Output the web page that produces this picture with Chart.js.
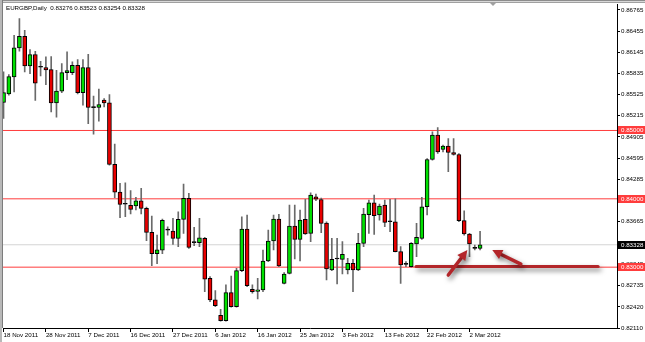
<!DOCTYPE html>
<html>
<head>
<meta charset="utf-8">
<script src="https://cdn.jsdelivr.net/npm/chart.js@4"></script>
<style>
  html, body { margin: 0; padding: 0; background: #fff; }
  #wrap { width: 645px; height: 342px; position: relative; }
</style>
</head>
<body>
<div id="wrap"><canvas id="chart"></canvas></div>
<script>
const symbol = 'EURGBP,Daily';
const dateLabels = ['18 Nov 2011', '28 Nov 2011', '7 Dec 2011', '16 Dec 2011', '27 Dec 2011', '6 Jan 2012',
    '16 Jan 2012', '25 Jan 2012', '3 Feb 2012', '13 Feb 2012', '22 Feb 2012', '2 Mar 2012'];
const labelEvery = 8;

// daily bars, oldest first
const opens = [0.85409, 0.85536, 0.85784, 0.86208, 0.86378, 0.85945, 0.86110, 0.85925, 0.85920, 0.85890,
    0.85404, 0.85575, 0.85847, 0.85847, 0.85955, 0.85555, 0.85920, 0.85334, 0.85336, 0.85443,
    0.85404, 0.84503, 0.84099, 0.83921, 0.83904, 0.83895, 0.83972, 0.83860, 0.83510, 0.83198,
    0.83247, 0.83543, 0.83529, 0.83422, 0.83699, 0.84006, 0.83358, 0.83358, 0.83422, 0.82837,
    0.82521, 0.82297, 0.82219, 0.82628, 0.82423, 0.82949, 0.83558, 0.82676, 0.82647, 0.82667,
    0.83090, 0.83383, 0.83704, 0.82764, 0.82910, 0.83602, 0.83407, 0.83699, 0.83495, 0.84030,
    0.83990, 0.83646, 0.82959, 0.83120, 0.83115, 0.82959, 0.83056, 0.82959, 0.83349, 0.83767,
    0.83943, 0.83763, 0.83909, 0.83665, 0.83665, 0.83227, 0.83042, 0.83008, 0.83339, 0.83422,
    0.83884, 0.84576, 0.84931, 0.84722, 0.84771, 0.84678, 0.84649, 0.83680, 0.83485, 0.83276,
    0.83276];
const highs = [0.85857, 0.85818, 0.86393, 0.86636, 0.86466, 0.86183, 0.86159, 0.86013, 0.86076, 0.86081,
    0.85881, 0.85979, 0.86149, 0.86003, 0.86037, 0.86037, 0.86115, 0.85502, 0.85604, 0.85468,
    0.85526, 0.84800, 0.84226, 0.84235, 0.84119, 0.84021, 0.84153, 0.83880, 0.83748, 0.83471,
    0.83705, 0.83592, 0.83714, 0.83811, 0.84215, 0.84079, 0.83582, 0.83714, 0.83435, 0.82862,
    0.82657, 0.82384, 0.82740, 0.82871, 0.82983, 0.83738, 0.83763, 0.82740, 0.82837, 0.83251,
    0.83543, 0.83763, 0.83772, 0.82920, 0.83909, 0.83909, 0.83836, 0.83991, 0.84089, 0.84070,
    0.84010, 0.83665, 0.83422, 0.83422, 0.83373, 0.83129, 0.83115, 0.83495, 0.83860, 0.83982,
    0.84055, 0.83923, 0.83982, 0.83991, 0.84000, 0.83300, 0.83080, 0.83358, 0.83641, 0.84021,
    0.84590, 0.84980, 0.85043, 0.84785, 0.84883, 0.84883, 0.84663, 0.83826, 0.83495, 0.83325,
    0.83523];
const lows = [0.85175, 0.85516, 0.85565, 0.86159, 0.85857, 0.85833, 0.85438, 0.85799, 0.85672, 0.85273,
    0.85195, 0.85555, 0.85745, 0.85818, 0.85536, 0.85370, 0.85100, 0.84946, 0.85136, 0.85346,
    0.84494, 0.84016, 0.83724, 0.83739, 0.83778, 0.83836, 0.83778, 0.83388, 0.83023, 0.83052,
    0.83198, 0.83470, 0.83334, 0.83300, 0.83495, 0.83276, 0.83314, 0.83300, 0.82642, 0.82497,
    0.82423, 0.82209, 0.82209, 0.82413, 0.82413, 0.82935, 0.82715, 0.82618, 0.82535, 0.82642,
    0.83080, 0.83251, 0.83007, 0.82754, 0.82900, 0.83120, 0.83090, 0.83480, 0.83373, 0.83972,
    0.83504, 0.82813, 0.82949, 0.82754, 0.82900, 0.82900, 0.82642, 0.82949, 0.83300, 0.83495,
    0.83480, 0.83689, 0.83592, 0.83519, 0.83222, 0.82764, 0.83008, 0.83000, 0.83154, 0.83407,
    0.83763, 0.84566, 0.84663, 0.84688, 0.84396, 0.84639, 0.83665, 0.83470, 0.83154, 0.83251,
    0.83254];
const closes = [0.85555, 0.85789, 0.86208, 0.86378, 0.85945, 0.86110, 0.85692, 0.85925, 0.85886, 0.85404,
    0.85575, 0.85847, 0.85877, 0.85955, 0.85555, 0.85920, 0.85336, 0.85334, 0.85380, 0.85404,
    0.84503, 0.84099, 0.83919, 0.83921, 0.83846, 0.83972, 0.83860, 0.83510, 0.83198, 0.83252,
    0.83685, 0.83543, 0.83422, 0.83699, 0.84006, 0.83290, 0.83358, 0.83431, 0.82823, 0.82521,
    0.82438, 0.82219, 0.82628, 0.82423, 0.82949, 0.83558, 0.82730, 0.82642, 0.82667, 0.83090,
    0.83383, 0.83704, 0.83017, 0.82900, 0.83602, 0.83407, 0.83690, 0.83485, 0.84055, 0.83996,
    0.83641, 0.82974, 0.83115, 0.83120, 0.83188, 0.83056, 0.82959, 0.83349, 0.83777, 0.83943,
    0.83753, 0.83894, 0.83655, 0.83665, 0.83227, 0.83032, 0.83042, 0.83349, 0.83436, 0.83884,
    0.84576, 0.84931, 0.84688, 0.84771, 0.84678, 0.84649, 0.83680, 0.83485, 0.83339, 0.83276,
    0.83328];

const priceTicks = [0.86765, 0.86455, 0.86145, 0.85835, 0.85525, 0.85215, 0.84905, 0.84595, 0.84285,
    0.83975, 0.83665, 0.83355, 0.83045, 0.82735, 0.82420, 0.82110];
const levels = [0.85, 0.84, 0.83];
const lastPrice = closes[closes.length - 1];

// hand drawn marks on the chart, in bar index / price units
const supportMark = { from: 77.9, to: 112.3, price: 0.8301 };
const arrows = [
    { from: [84.0, 0.82885], to: [87.6, 0.83250] },
    { from: [97.7, 0.83045], to: [92.3, 0.83250] }
];

const xMin = -0.1;
const xMax = 115.86;
const bullColor = '#00e000';
const bearColor = '#e80000';
const levelColor = '#ff3c3c';
const markColor = '#b3262a';
const font = { family: '"Liberation Sans", Arial, sans-serif', size: 6.2 };

function bodyColor(o, c) {
    if (c > o) return bullColor;
    if (c < o) return bearColor;
    return '#000';
}

const wicks = opens.map((o, i) => ({ x: i, y: [lows[i], highs[i]] }));
const bodies = opens.map((o, i) => ({ x: i, y: [o, closes[i]] }));

const levelSets = levels.map(lvl => ({
    type: 'line',
    data: [{ x: xMin, y: lvl }, { x: xMax, y: lvl }],
    borderColor: levelColor,
    borderWidth: 1,
    pointRadius: 0,
    order: 5
}));

const lastSet = {
    type: 'line',
    data: [{ x: xMin, y: lastPrice }, { x: xMax, y: lastPrice }],
    borderColor: '#d4d4d4',
    borderWidth: 1,
    pointRadius: 0,
    order: 6
};

function drawArrow(ctx, x1, y1, x2, y2) {
    const a = Math.atan2(y2 - y1, x2 - x1);
    const headLen = 10;
    const headW = 10;
    const bx = x2 - Math.cos(a) * headLen;
    const by = y2 - Math.sin(a) * headLen;
    ctx.beginPath();
    ctx.moveTo(x1, y1);
    ctx.lineTo(bx, by);
    ctx.lineWidth = 3.5;
    ctx.stroke();
    ctx.beginPath();
    ctx.moveTo(x2, y2);
    ctx.lineTo(bx + Math.sin(a) * headW / 2, by - Math.cos(a) * headW / 2);
    ctx.lineTo(bx - Math.sin(a) * headW / 2, by + Math.cos(a) * headW / 2);
    ctx.closePath();
    ctx.fill();
}

const overlay = {
    id: 'overlay',
    afterDraw(chart) {
        const ctx = chart.ctx;
        const xs = chart.scales.x;
        const ys = chart.scales.y;
        const area = chart.chartArea;

        // support line and arrows
        ctx.save();
        ctx.shadowColor = 'rgba(0,0,0,0.5)';
        ctx.shadowBlur = 5;
        ctx.shadowOffsetX = 2;
        ctx.shadowOffsetY = 3;
        ctx.strokeStyle = markColor;
        ctx.fillStyle = markColor;
        ctx.lineCap = 'round';
        const sy = ys.getPixelForValue(supportMark.price);
        ctx.beginPath();
        ctx.moveTo(xs.getPixelForValue(supportMark.from), sy);
        ctx.lineTo(xs.getPixelForValue(supportMark.to), sy);
        ctx.lineWidth = 3;
        ctx.stroke();
        arrows.forEach(ar => {
            drawArrow(ctx,
                xs.getPixelForValue(ar.from[0]), ys.getPixelForValue(ar.from[1]),
                xs.getPixelForValue(ar.to[0]), ys.getPixelForValue(ar.to[1]));
        });
        ctx.restore();

        // price boxes on the right axis
        ctx.save();
        ctx.font = font.size + 'px ' + font.family;
        ctx.textBaseline = 'middle';
        const boxes = levels.map(v => ({ v: v, bg: levelColor }));
        boxes.push({ v: lastPrice, bg: '#000' });
        boxes.forEach(b => {
            const y = Math.round(ys.getPixelForValue(b.v));
            ctx.fillStyle = b.bg;
            ctx.fillRect(area.right + 1, y - 4, 27, 8);
            ctx.fillStyle = '#fff';
            ctx.fillText(b.v.toFixed(5), area.right + 4, y + 0.5);
        });

        // title
        ctx.fillStyle = '#000';
        const i = closes.length - 1;
        const ohlc = [opens[i], highs[i], lows[i], closes[i]].map(v => v.toFixed(5)).join(' ');
        ctx.fillText(symbol + '  ' + ohlc, 6, 8);

        // window frame
        ctx.fillStyle = '#8c8c8c';
        ctx.fillRect(0, 0, chart.width, 1);
        ctx.fillStyle = '#d8d8d8';
        ctx.fillRect(0, 1, chart.width, 1);
        ctx.fillStyle = '#a0a0a0';
        ctx.fillRect(0, 2, chart.width, 1);
        ctx.fillStyle = '#b8b8b8';
        ctx.fillRect(0, 0, 2, chart.height);
        ctx.fillStyle = '#7c7c7c';
        ctx.fillRect(2, 0, 1, area.bottom);
        // chart shift marker
        ctx.fillStyle = '#a0a0a0';
        ctx.beginPath();
        ctx.moveTo(490, 3);
        ctx.lineTo(496, 3);
        ctx.lineTo(493, 6);
        ctx.closePath();
        ctx.fill();
        ctx.restore();
    }
};

new Chart(document.getElementById('chart'), {
    type: 'bar',
    data: {
        datasets: [
            {
                data: bodies,
                backgroundColor: bodies.map(d => bodyColor(d.y[0], d.y[1])),
                borderColor: '#000',
                borderWidth: 1,
                borderSkipped: false,
                barThickness: 4,
                minBarLength: 1,
                grouped: false,
                order: 1
            },
            {
                data: wicks,
                backgroundColor: '#6a6a6a',
                borderWidth: 0,
                barThickness: 1,
                grouped: false,
                order: 2
            },
            ...levelSets,
            lastSet
        ]
    },
    plugins: [overlay],
    options: {
        responsive: true,
        maintainAspectRatio: false,
        animation: false,
        layout: { padding: { left: 3, top: 4, right: 0, bottom: 0 } },
        plugins: {
            legend: { display: false },
            tooltip: { enabled: false }
        },
        scales: {
            x: {
                type: 'linear',
                min: xMin,
                max: xMax,
                offset: false,
                grid: { offset: false, drawOnChartArea: false, color: '#000', tickLength: 4 },
                border: { display: true, color: '#000' },
                ticks: {
                    align: 'start',
                    autoSkip: false,
                    maxRotation: 0,
                    padding: 0,
                    color: '#000',
                    font: font,
                    callback: v => dateLabels[v / labelEvery]
                },
                afterBuildTicks: scale => {
                    scale.ticks = dateLabels.map((d, i) => ({ value: i * labelEvery }));
                },
                afterFit: scale => { scale.height = 14; }
            },
            y: {
                type: 'linear',
                position: 'right',
                min: 0.8211,
                max: 0.8684,
                beginAtZero: false,
                grid: { drawOnChartArea: false, color: '#000', tickLength: 3 },
                border: { display: true, color: '#000' },
                ticks: {
                    autoSkip: false,
                    padding: 1,
                    color: '#000',
                    font: font,
                    callback: v => v.toFixed(5)
                },
                afterBuildTicks: scale => {
                    scale.ticks = priceTicks.map(v => ({ value: v }));
                },
                afterFit: scale => { scale.width = 28; }
            }
        }
    }
});
</script>
</body>
</html>
